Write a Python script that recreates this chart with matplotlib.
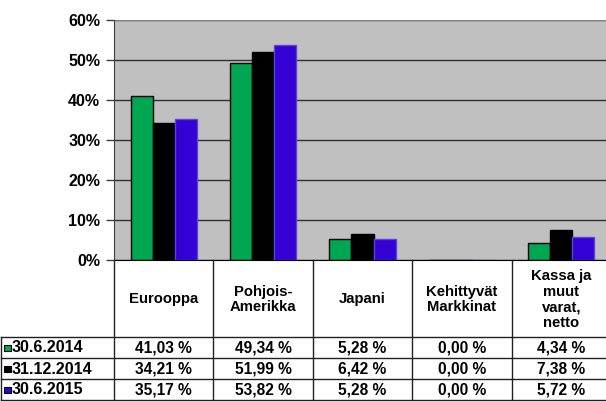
import matplotlib
matplotlib.use("Agg")
import matplotlib.pyplot as plt
from matplotlib.patches import Rectangle

plt.rcParams["font.family"] = ["Liberation Sans", "DejaVu Sans"]
plt.rcParams["font.weight"] = "bold"

# data
categories = ["Eurooppa", "Pohjois-\nAmerikka", "Japani", "Kehittyvät\nMarkkinat",
              "Kassa ja\nmuut\nvarat,\nnetto"]
series_labels = ["30.6.2014", "31.12.2014", "30.6.2015"]
v_2014_06 = [41.03, 49.34, 5.28, 0.00, 4.34]
v_2014_12 = [34.21, 51.99, 6.42, 0.00, 7.38]
v_2015_06 = [35.17, 53.82, 5.28, 0.00, 5.72]
series = [v_2014_06, v_2014_12, v_2015_06]
colors = ["#00a651", "#000000", "#3300d6"]
edges = ["#000000", "#000000", "#5b45d8"]
yticks = [0, 10, 20, 30, 40, 50, 60]

W, H = 606, 401
fig = plt.figure(figsize=(W / 100, H / 100), dpi=100)

# pixel layout
x0, col_w = 114, 99.4
y_top, y_zero = 20, 260
rows_y = [260, 337, 358, 379, 400]
lab_x0 = 1

ax = fig.add_axes([x0 / W, (H - y_zero) / H, 5 * col_w / W, (y_zero - y_top) / H])
ax.set_facecolor("#c0c0c0")
ax.set_xlim(0, 5)
ax.set_ylim(0, 60)

bw = 0.222
for j, vals in enumerate(series):
    xs = [i + 0.5 + (j - 1) * bw for i in range(len(categories))]
    ax.bar(xs, vals, width=bw, color=colors[j], edgecolor=edges[j], linewidth=1.0, zorder=3)

ax.set_yticks(yticks)
ax.set_yticklabels([f"{t}%" for t in yticks], fontsize=11.5, fontweight="bold")
ax.set_xticks([])
ax.tick_params(axis="y", length=6, width=1, color="#404040", pad=4)
ax.yaxis.grid(True, color="#303030", linewidth=1.0, zorder=1)
ax.set_axisbelow(True)
for s in ["top", "right"]:
    ax.spines[s].set_visible(False)
ax.spines["left"].set_color("#404040")
ax.spines["bottom"].set_color("#000000")
ax.spines["bottom"].set_zorder(4)
ax.axhline(60, color="#909090", linewidth=1.2, zorder=1)

# table under the chart, drawn in pixel coordinates
tab = fig.add_axes([0, 0, 1, 1])
tab.set_xlim(0, W)
tab.set_ylim(H, 0)
tab.axis("off")

line_kw = dict(color="#202020", linewidth=1.0)
col_x = [x0 + i * col_w for i in range(len(categories) + 1)]
for cx in col_x:
    tab.plot([cx, cx], [rows_y[0], rows_y[-1]], **line_kw)
tab.plot([lab_x0, lab_x0], [rows_y[1], rows_y[-1]], **line_kw)
for ry in rows_y[1:]:
    tab.plot([lab_x0, col_x[-1]], [ry, ry], **line_kw)

for i, cat in enumerate(categories):
    cx = (col_x[i] + col_x[i + 1]) / 2
    tab.text(cx, (rows_y[0] + rows_y[1]) / 2 + 1, cat, ha="center", va="center",
             fontsize=10.7, fontweight="bold", linespacing=1.15)

for j, vals in enumerate(series):
    cy = (rows_y[j + 1] + rows_y[j + 2]) / 2 + 0.5
    tab.add_patch(Rectangle((4, cy - 3.5), 6.5, 6.5, facecolor=colors[j],
                            edgecolor="#000000", linewidth=0.8))
    tab.text(11.5, cy, series_labels[j], ha="left", va="center", fontsize=11.5, fontweight="bold")
    for i, v in enumerate(vals):
        cx = (col_x[i] + col_x[i + 1]) / 2
        tab.text(cx, cy, f"{v:.2f} %".replace(".", ","), ha="center", va="center",
                 fontsize=11.2, fontweight="bold")

fig.savefig("out.png", dpi=100)
